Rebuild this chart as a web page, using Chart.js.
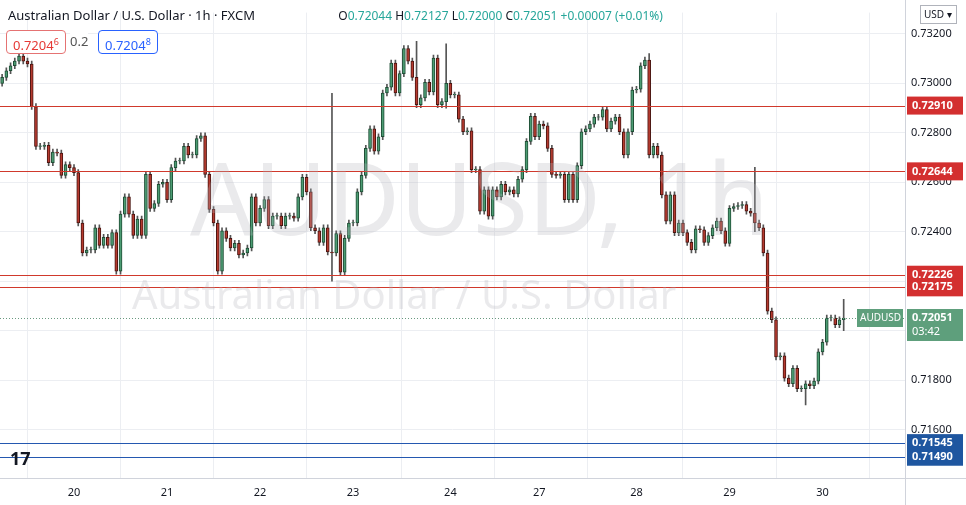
<!DOCTYPE html>
<html>
<head>
<meta charset="utf-8">
<script src="https://cdn.jsdelivr.net/npm/chart.js@4.4.0/dist/chart.umd.min.js"></script>
<style>
  body { margin: 0; background: #fff; font-family: "Noto Sans", Arial, sans-serif; }
  #wrap { position: relative; width: 966px; height: 505px; }
  #header { position: absolute; left: 8px; top: 6px; font-size: 13px; color: #131722; white-space: nowrap; }
  #header .ohlc { margin-left: 80px; font-size: 12px; }
  .box { position: absolute; top: 30px; height: 22px; line-height: 22px; font-size: 13px; padding: 0 6px; border-radius: 4px; background: #fff; }
  .wm { position: absolute; color: rgba(180,180,185,0.28); white-space: nowrap; pointer-events: none; }
</style>
</head>
<body>
<div id="wrap">
  <canvas id="chart" width="966" height="505"></canvas>
  <div class="wm" style="left:190px;top:128px;font-size:100px;">AUDUSD, 1h</div>
  <div class="wm" style="left:132px;top:266px;font-size:40px;">Australian Dollar / U.S. Dollar</div>
  <div id="header">Australian Dollar / U.S. Dollar · 1h · FXCM
    <span class="ohlc">O<span style="color:#26a69a">0.72044</span> H<span style="color:#26a69a">0.72127</span> L<span style="color:#26a69a">0.72000</span> C<span style="color:#26a69a">0.72051</span> <span style="color:#26a69a">+0.00007 (+0.01%)</span></span>
  </div>
  <div class="box" style="left:6px;border:1px solid #e57373;color:#e53935;">0.7204<sup style="font-size:9px">6</sup></div>
  <div class="box" style="left:70px;color:#555;padding:0;">0.2</div>
  <div class="box" style="left:98px;border:1px solid #2962ff;color:#2962ff;">0.7204<sup style="font-size:9px">8</sup></div>
  <div style="position:absolute;left:10px;top:446px;font-size:18px;font-weight:bold;color:#131722;">17</div>
</div>
<script>
// hourly closes AUD/USD, 19-30
const closes = [
  0.73024, 0.73051, 0.73071, 0.73090, 0.73110, 0.73090, 0.73078, 0.72906, 0.72745, 0.72745,
  0.72749, 0.72679, 0.72722, 0.72718, 0.72628, 0.72671, 0.72659, 0.72639, 0.72435, 0.72314,
  0.72326, 0.72326, 0.72416, 0.72345, 0.72377, 0.72345, 0.72396, 0.72240, 0.72471, 0.72541,
  0.72471, 0.72385, 0.72451, 0.72385, 0.72632, 0.72494, 0.72514, 0.72592, 0.72600, 0.72530,
  0.72659, 0.72686, 0.72686, 0.72745, 0.72710, 0.72710, 0.72777, 0.72788, 0.72632, 0.72490,
  0.72435, 0.72240, 0.72404, 0.72373, 0.72334, 0.72353, 0.72306, 0.72314, 0.72334, 0.72541,
  0.72435, 0.72494, 0.72530, 0.72424, 0.72463, 0.72463, 0.72424, 0.72463, 0.72463, 0.72455,
  0.72541, 0.72620, 0.72561, 0.72416, 0.72404, 0.72357, 0.72416, 0.72318, 0.72314, 0.72392,
  0.72236, 0.72373, 0.72435, 0.72435, 0.72561, 0.72628, 0.72737, 0.72816, 0.72726, 0.72784,
  0.72961, 0.72984, 0.73082, 0.72961, 0.73039, 0.73141, 0.73090, 0.73024, 0.72914, 0.72941,
  0.73004, 0.72965, 0.73102, 0.72914, 0.72926, 0.73000, 0.72953, 0.72953, 0.72855, 0.72804,
  0.72808, 0.72651, 0.72651, 0.72483, 0.72569, 0.72463, 0.72569, 0.72541, 0.72592, 0.72561,
  0.72569, 0.72553, 0.72612, 0.72651, 0.72765, 0.72867, 0.72784, 0.72835, 0.72828, 0.72737,
  0.72632, 0.72628, 0.72632, 0.72530, 0.72632, 0.72530, 0.72667, 0.72804, 0.72816, 0.72835,
  0.72863, 0.72863, 0.72894, 0.72816, 0.72847, 0.72863, 0.72804, 0.72710, 0.72804, 0.72973,
  0.72976, 0.73071, 0.73094, 0.72710, 0.72745, 0.72710, 0.72549, 0.72443, 0.72549, 0.72396,
  0.72435, 0.72396, 0.72357, 0.72326, 0.72412, 0.72408, 0.72357, 0.72384, 0.72416, 0.72443,
  0.72404, 0.72353, 0.72494, 0.72502, 0.72506, 0.72510, 0.72483, 0.72475, 0.72435, 0.72416,
  0.72314, 0.72079, 0.72044, 0.71894, 0.71898, 0.71808, 0.71785, 0.71847, 0.71765, 0.71765,
  0.71785, 0.71777, 0.71796, 0.71914, 0.71953, 0.72051, 0.72051, 0.72024, 0.72044, 0.72051
];
const firstOpen = 0.73000;
const wick = 0.00012;
// notable wick extremes: [candle index, high, low]
const spikes = [[78, 0.72960, 0.72200], [98, 0.73170, 0.73060], [105, 0.73160, 0.72900], [153, 0.73120, 0.72960], [178, 0.72660, 0.72400], [190, 0.71790, 0.71700], [199, 0.72127, 0.72000]];
const dayLabels = ['20', '21', '22', '23', '24', '27', '28', '29', '30'];
const dayStarts = [17, 39, 61, 83, 106, 127, 150, 172, 194];
const levels = [0.72910, 0.72644, 0.72226, 0.72175];
const supports = [0.71545, 0.71490];
const lastPrice = 0.72051;

const GREEN = '#4c9c73', RED = '#b53a2f';
const opens = closes.map((c, i) => i === 0 ? firstOpen : closes[i - 1]);
const highs = closes.map((c, i) => Math.max(c, opens[i]) + wick);
const lows = closes.map((c, i) => Math.min(c, opens[i]) - wick);
spikes.forEach(([i, h, l]) => { highs[i] = Math.max(highs[i], h); lows[i] = Math.min(lows[i], l); });
const labels = closes.map((c, i) => i);
const up = closes.map((c, i) => c >= opens[i]);

function badge(ctx, y, text, bg, x, w) {
  ctx.fillStyle = bg;
  ctx.fillRect(x, y - 9, w, 18);
  ctx.fillStyle = '#fff';
  ctx.font = 'bold 11px "Noto Sans"';
  ctx.textBaseline = 'middle';
  ctx.fillText(text, x + 5, y);
}

function hline(ctx, a, py, color) {
  ctx.strokeStyle = color;
  ctx.beginPath(); ctx.moveTo(a.left, py); ctx.lineTo(a.right, py); ctx.stroke();
}

const overlay = {
  id: 'overlay',
  afterDatasetsDraw(chart) {
    const { ctx, chartArea: a, scales: { y } } = chart;
    ctx.save();
    ctx.lineWidth = 1.2;
    levels.forEach(v => hline(ctx, a, Math.round(y.getPixelForValue(v)) + 0.5, '#d0392c'));
    supports.forEach(v => hline(ctx, a, Math.round(y.getPixelForValue(v)) + 0.5, '#2458b0'));
    ctx.lineWidth = 1;
    ctx.setLineDash([1, 2]);
    hline(ctx, a, Math.round(y.getPixelForValue(lastPrice)) + 0.5, '#6a9a80');
    ctx.setLineDash([]);
    ctx.restore();
  },
  afterDraw(chart) {
    const { ctx, chartArea: a, scales: { y } } = chart;
    ctx.save();
    levels.forEach(v => badge(ctx, y.getPixelForValue(v), v.toFixed(5), '#d32f2f', a.right + 2, 56));
    supports.forEach(v => badge(ctx, y.getPixelForValue(v), v.toFixed(5), '#1e56a0', a.right + 2, 56));
    const lp = y.getPixelForValue(lastPrice);
    ctx.fillStyle = '#5e9f7c';
    ctx.fillRect(a.right + 2, lp - 9, 56, 32);
    ctx.fillStyle = '#fff';
    ctx.font = 'bold 11px "Noto Sans"';
    ctx.textBaseline = 'middle';
    ctx.fillText(lastPrice.toFixed(5), a.right + 7, lp);
    ctx.font = '11px "Noto Sans"';
    ctx.fillText('03:42', a.right + 7, lp + 14);
    ctx.fillStyle = '#5e9f7c';
    ctx.fillRect(a.right - 48, lp - 9, 46, 18);
    ctx.fillStyle = '#fff';
    ctx.font = '10px "Noto Sans"';
    ctx.fillText('AUDUSD', a.right - 45, lp);
    ctx.strokeStyle = '#d0d3db';
    ctx.lineWidth = 1;
    ctx.beginPath();
    ctx.moveTo(a.right + 0.5, 0); ctx.lineTo(a.right + 0.5, chart.height);
    ctx.moveTo(0, a.bottom + 0.5); ctx.lineTo(chart.width, a.bottom + 0.5);
    ctx.stroke();
    ctx.strokeStyle = '#b0b3bb';
    ctx.fillStyle = '#fff';
    ctx.fillRect(a.right + 16, 6, 35, 17);
    ctx.strokeRect(a.right + 15.5, 5.5, 36, 18);
    ctx.fillStyle = '#131722';
    ctx.font = '10px "Noto Sans"';
    ctx.fillText('USD ▾', a.right + 19, 15);
    ctx.restore();
  }
};

new Chart(document.getElementById('chart'), {
  type: 'bar',
  data: {
    labels,
    datasets: [
      {
        label: 'wick',
        data: closes.map((c, i) => [lows[i], highs[i]]),
        backgroundColor: '#555',
        barThickness: 1,
        order: 2
      },
      {
        label: 'body',
        data: closes.map((c, i) => up[i] ? [opens[i], c + (c === opens[i] ? 0.00002 : 0)] : [c, opens[i]]),
        backgroundColor: closes.map((c, i) => up[i] ? GREEN : RED),
        borderColor: closes.map((c, i) => up[i] ? '#1f4d35' : '#4a1410'),
        borderWidth: 1,
        borderSkipped: false,
        barThickness: 3,
        order: 1
      }
    ]
  },
  options: {
    responsive: false,
    animation: false,
    grouped: false,
    plugins: { legend: { display: false }, tooltip: { enabled: false } },
    scales: {
      x: {
        type: 'linear',
        offset: false,
        min: -0.5,
        max: 213.5,
        grid: { color: '#eceef2', drawTicks: false },
        border: { display: false },
        afterFit(s) { s.height = 27; },
        afterBuildTicks(s) { s.ticks = dayStarts.map(v => ({ value: v })); },
        ticks: {
          autoSkip: false,
          maxRotation: 0,
          padding: 8,
          color: '#131722',
          font: { size: 11, family: 'Noto Sans' },
          callback(v) {
            const k = dayStarts.indexOf(v);
            return k >= 0 ? dayLabels[k] : '';
          }
        }
      },
      y: {
        position: 'right',
        min: 0.71404,
        max: 0.73286,
        grid: { color: '#eceef2', drawTicks: false },
        border: { display: false },
        afterFit(s) { s.width = 61; },
        afterBuildTicks(s) {
          s.ticks = [0.716, 0.718, 0.720, 0.722, 0.724, 0.726, 0.728, 0.730, 0.732].map(v => ({ value: v }));
        },
        ticks: {
          padding: 6,
          color: '#131722',
          font: { size: 11, family: 'Noto Sans' },
          callback: v => v === 0.720 || v === 0.722 ? '' : v.toFixed(5)
        }
      }
    }
  },
  plugins: [overlay]
});
</script>
</body>
</html>
